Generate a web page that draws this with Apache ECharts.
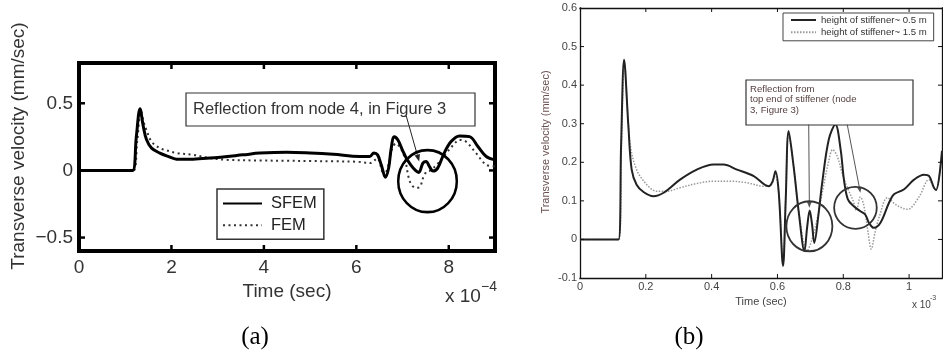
<!DOCTYPE html>
<html><head><meta charset="utf-8">
<script src="https://cdn.jsdelivr.net/npm/echarts@6/dist/echarts.min.js"></script>
<style>html,body{margin:0;padding:0;background:#fff}#c{width:943px;height:356px}</style>
</head><body><div id="c"></div>
<script>
// ---------- Panel (a) data (time in 1e-4 s, velocity in mm/sec) ----------
const aTimeSFEM = [0, 1.0, 1.16, 1.24, 1.32, 1.39, 1.46, 1.57, 1.75, 1.93, 2.11, 2.47, 2.83, 3.55, 3.91, 4.5, 5.0, 5.5, 6.07, 6.29, 6.38, 6.46, 6.54, 6.63, 6.7, 6.75, 6.82, 6.9, 7.0, 7.08, 7.18, 7.28, 7.35, 7.44, 7.51, 7.58, 7.66, 7.76, 7.9, 8.05, 8.23, 8.45, 8.63, 8.81, 9.0];
const aVelSFEM  = [0, 0, 0, 0.25, 0.46, 0.33, 0.23, 0.166, 0.129, 0.104, 0.084, 0.084, 0.092, 0.116, 0.129, 0.136, 0.13, 0.12, 0.104, 0.104, 0.13, 0.116, 0.04, -0.05, 0.02, 0.153, 0.25, 0.227, 0.15, 0.092, 0.04, 0.0, -0.015, 0.054, 0.067, 0.03, -0.005, 0.017, 0.129, 0.215, 0.257, 0.252, 0.178, 0.104, 0.079];
const aTimeFEM  = [0, 1.0, 1.18, 1.26, 1.34, 1.4, 1.46, 1.57, 1.75, 1.93, 2.11, 2.47, 2.83, 3.19, 3.91, 4.5, 5.0, 5.5, 6.0, 6.3, 6.45, 6.6, 6.7, 6.78, 6.86, 6.95, 7.05, 7.13, 7.2, 7.3, 7.38, 7.45, 7.52, 7.6, 7.76, 7.95, 8.1, 8.23, 8.37, 8.59, 8.81, 9.0];
const aVelFEM   = [0, 0, 0, 0.22, 0.44, 0.36, 0.30, 0.215, 0.166, 0.146, 0.129, 0.116, 0.092, 0.079, 0.074, 0.072, 0.07, 0.068, 0.065, 0.055, 0.09, -0.04, 0.05, 0.17, 0.2, 0.17, 0.09, -0.05, -0.11, -0.13, -0.12, -0.05, -0.01, 0.0, 0.05, 0.13, 0.19, 0.227, 0.215, 0.129, 0.042, 0.03];
const aXTicks = [0, 2, 4, 6, 8];
const aYTicks = [-0.5, 0, 0.5];

// ---------- Panel (b) data (time in 1e-3 s, velocity in mm/sec) ----------
const bTime05 = [0, 0.1, 0.117, 0.125, 0.134, 0.147, 0.157, 0.172, 0.193, 0.223, 0.254, 0.304, 0.355, 0.406, 0.436, 0.477, 0.528, 0.573, 0.585, 0.594, 0.604, 0.617, 0.625, 0.634, 0.649, 0.665, 0.682, 0.69, 0.698, 0.705, 0.712, 0.724, 0.736, 0.756, 0.776, 0.792, 0.802, 0.814, 0.832, 0.852, 0.867, 0.878, 0.893, 0.913, 0.939, 0.954, 0.985, 1.015, 1.045, 1.061, 1.075, 1.082, 1.1];
const bVel05  = [0, 0, 0, 0.25, 0.466, 0.294, 0.181, 0.142, 0.123, 0.112, 0.121, 0.155, 0.181, 0.194, 0.194, 0.181, 0.164, 0.138, 0.15, 0.177, 0.121, -0.069, 0.1, 0.281, 0.19, 0.069, -0.03, 0.03, 0.075, 0.04, -0.009, 0.06, 0.147, 0.259, 0.298, 0.233, 0.155, 0.104, 0.086, 0.073, 0.064, 0.043, 0.03, 0.043, 0.095, 0.117, 0.13, 0.155, 0.168, 0.164, 0.135, 0.128, 0.23];
const bTime15 = [0, 0.1, 0.118, 0.126, 0.135, 0.152, 0.172, 0.203, 0.233, 0.264, 0.304, 0.355, 0.406, 0.457, 0.507, 0.558, 0.58, 0.592, 0.604, 0.617, 0.625, 0.634, 0.649, 0.665, 0.69, 0.705, 0.72, 0.738, 0.755, 0.768, 0.782, 0.797, 0.812, 0.83, 0.84, 0.852, 0.862, 0.875, 0.885, 0.897, 0.91, 0.934, 0.96, 0.995, 1.03, 1.06, 1.075, 1.082, 1.1];
const bVel15  = [0, 0, 0, 0.24, 0.455, 0.25, 0.181, 0.142, 0.125, 0.125, 0.134, 0.145, 0.151, 0.151, 0.147, 0.138, 0.14, 0.17, 0.12, -0.06, 0.1, 0.27, 0.19, 0.07, -0.03, 0.0, 0.05, 0.13, 0.2, 0.233, 0.215, 0.17, 0.135, 0.1, 0.075, 0.11, 0.09, 0.02, -0.025, 0.02, 0.06, 0.108, 0.09, 0.078, 0.11, 0.155, 0.135, 0.128, 0.23];
const bXTicks = [0, 0.2, 0.4, 0.6, 0.8, 1];
const bYTicks = [-0.1, 0, 0.1, 0.2, 0.3, 0.4, 0.5, 0.6];

const seriesNames = ['SFEM', 'FEM', 'height of stiffener~ 0.5 m', 'height of stiffener~ 1.5 m'];

function pairs(t, v) { return t.map((x, i) => [x, v[i]]); }

const FONT = '"Liberation Sans", Arial, sans-serif';
const chart = echarts.init(document.getElementById('c'));

function tickAxis(common, extra) { return Object.assign({}, common, extra); }

const aLine = { show: true, onZero: false, lineStyle: { color: '#000', width: 4, cap: 'square' } };
const bLine = { show: true, onZero: false, lineStyle: { color: '#111', width: 1.3, cap: 'square' } };
const aXCommon = { gridIndex: 0, type: 'value', min: 0, max: 9, interval: 2, axisLine: aLine, splitLine: { show: false }, axisTick: { show: false } };
const aYCommon = { gridIndex: 0, type: 'value', min: -0.6, max: 0.8, axisLine: aLine, splitLine: { show: false }, axisTick: { show: false } };
const bXCommon = { gridIndex: 1, type: 'value', min: 0, max: 1.1, interval: 0.2, axisLine: bLine, splitLine: { show: false }, axisTick: { show: false } };
const bYCommon = { gridIndex: 1, type: 'value', min: -0.1, max: 0.6, interval: 0.1, axisLine: bLine, splitLine: { show: false }, axisTick: { show: false } };

const option = {
  animation: false,
  backgroundColor: '#fff',
  grid: [
    { left: 79, top: 63, width: 416, height: 188, show: false, outerBoundsMode: 'none' },
    { left: 580, top: 8, width: 362, height: 270, show: false, outerBoundsMode: 'none' }
  ],
  xAxis: [
    tickAxis(aXCommon, { position: 'bottom', axisLabel: { customValues: aXTicks, margin: 7, fontSize: 19, color: '#333', fontFamily: FONT },
      name: 'Time (sec)', nameLocation: 'middle', nameGap: 28, nameTextStyle: { fontSize: 19, color: '#333', fontFamily: FONT } }),
    tickAxis(aXCommon, { position: 'top', axisLabel: { show: false } }),
    tickAxis(bXCommon, { position: 'bottom', axisLabel: { customValues: bXTicks, margin: 3, fontSize: 11, color: '#444', fontFamily: FONT },
      name: 'Time (sec)', nameLocation: 'middle', nameGap: 15, nameTextStyle: { fontSize: 11, color: '#444', fontFamily: FONT } }),
    tickAxis(bXCommon, { position: 'top', axisLabel: { show: false } })
  ],
  yAxis: [
    tickAxis(aYCommon, { position: 'left', axisLabel: { customValues: aYTicks, margin: 6, fontSize: 19, color: '#333', fontFamily: FONT,
      formatter: v => (v === 0 ? '0' : String(v).replace('-', '\u2212')) } }),
    tickAxis(aYCommon, { position: 'right', axisLabel: { show: false } }),
    tickAxis(bYCommon, { position: 'left', axisLabel: { customValues: bYTicks, margin: 3, fontSize: 11, color: '#444', fontFamily: FONT,
      formatter: v => String(Math.round(v * 10) / 10) } }),
    tickAxis(bYCommon, { position: 'right', axisLabel: { show: false } })
  ],
  legend: [
    { data: [seriesNames[0], seriesNames[1]], orient: 'vertical', left: 217, top: 189, padding: [6, 7, 5.5, 5], itemWidth: 39, itemHeight: 16, itemGap: 4.7,
      borderColor: '#333', borderWidth: 1.5, backgroundColor: '#fff', selectedMode: false, itemStyle: { opacity: 0 },
      textStyle: { fontSize: 16.5, fontFamily: FONT, color: '#222', lineHeight: 16, padding: [0, 0, 0, 4] } },
    { data: [seriesNames[2], seriesNames[3]], orient: 'vertical', left: 783, top: 13, padding: [2, 7, 3.5, 7], itemWidth: 25, itemHeight: 10, itemGap: 2.3,
      borderColor: '#444', borderWidth: 1, backgroundColor: '#fff', selectedMode: false, itemStyle: { opacity: 0 },
      textStyle: { fontSize: 9.6, fontFamily: FONT, color: '#333', lineHeight: 10 } }
  ],
  series: [
    { name: seriesNames[0], type: 'line', xAxisIndex: 0, yAxisIndex: 0, data: pairs(aTimeSFEM, aVelSFEM), symbol: 'none', smooth: 0.35, z: 4,
      lineStyle: { color: '#000', width: 3 }, itemStyle: { color: '#000' } },
    { name: seriesNames[1], type: 'line', xAxisIndex: 0, yAxisIndex: 0, data: pairs(aTimeFEM, aVelFEM), symbol: 'none', smooth: 0.35, z: 3,
      lineStyle: { color: '#333', width: 2, type: [2, 3.5] }, itemStyle: { color: '#333' } },
    { name: seriesNames[2], type: 'line', xAxisIndex: 2, yAxisIndex: 2, data: pairs(bTime05, bVel05), symbol: 'none', smooth: 0.35, z: 4,
      lineStyle: { color: '#222', width: 2 }, itemStyle: { color: '#222' } },
    { name: seriesNames[3], type: 'line', xAxisIndex: 2, yAxisIndex: 2, data: pairs(bTime15, bVel15), symbol: 'none', smooth: 0.35, z: 3,
      lineStyle: { color: '#999', width: 1.5, type: [1.5, 1.5] }, itemStyle: { color: '#999' } }
  ]
};
chart.setOption(option);

// ---------- annotations ----------
function pa(x, y) { return chart.convertToPixel({ xAxisIndex: 0, yAxisIndex: 0 }, [x, y]); }
function pb(x, y) { return chart.convertToPixel({ xAxisIndex: 2, yAxisIndex: 2 }, [x, y]); }
function arrow(p0, p1, color, w, head) {
  const dx = p1[0] - p0[0], dy = p1[1] - p0[1], L = Math.hypot(dx, dy);
  const ux = dx / L, uy = dy / L;
  const bx = p1[0] - ux * head, by = p1[1] - uy * head;
  const nx = -uy * head * 0.4, ny = ux * head * 0.4;
  return [
    { type: 'line', z: 100, shape: { x1: p0[0], y1: p0[1], x2: bx, y2: by }, style: { stroke: color, lineWidth: w } },
    { type: 'polygon', z: 100, shape: { points: [[p1[0], p1[1]], [bx + nx, by + ny], [bx - nx, by - ny]] }, style: { fill: color } }
  ];
}
function ring(c, rx, ry, color, w) {
  return { type: 'circle', z: 100, x: c[0], y: c[1], scaleY: ry / rx, shape: { cx: 0, cy: 0, r: rx }, style: { fill: 'none', stroke: color, lineWidth: w } };
}
// inside tick marks on all four sides, positioned through the axes' scales
function ticks(conv, xMin, xMax, yMin, yMax, xt, yt, len, color, w) {
  const out = [];
  const y0 = conv(xMin, yMin)[1], y1 = conv(xMin, yMax)[1];
  const x0 = conv(xMin, yMin)[0], x1 = conv(xMax, yMin)[0];
  xt.forEach(v => {
    const x = conv(v, yMin)[0];
    if (Math.abs(x - x0) < 1 || Math.abs(x - x1) < 1) return;
    out.push({ type: 'line', z: 50, shape: { x1: x, y1: y0, x2: x, y2: y0 - len }, style: { stroke: color, lineWidth: w } });
    out.push({ type: 'line', z: 50, shape: { x1: x, y1: y1, x2: x, y2: y1 + len }, style: { stroke: color, lineWidth: w } });
  });
  yt.forEach(v => {
    const y = conv(xMin, v)[1];
    if (Math.abs(y - y0) < 1 || Math.abs(y - y1) < 1) return;
    out.push({ type: 'line', z: 50, shape: { x1: x0, y1: y, x2: x0 + len, y2: y }, style: { stroke: color, lineWidth: w } });
    out.push({ type: 'line', z: 50, shape: { x1: x1, y1: y, x2: x1 - len, y2: y }, style: { stroke: color, lineWidth: w } });
  });
  return out;
}
const g = [];
g.push(...ticks(pa, 0, 9, -0.6, 0.8, aXTicks, aYTicks, 6, '#000', 2.5));
g.push(...ticks(pb, 0, 1.1, -0.1, 0.6, bXTicks, bYTicks, 4, '#111', 1));
// panel (a)
g.push({ type: 'rect', z: 90, shape: { x: 186, y: 93, width: 289, height: 33 }, style: { fill: '#fff', stroke: '#333', lineWidth: 1.2 } });
g.push({ type: 'text', z: 101, style: { text: 'Reflection from node 4, in Figure 3', x: 193, y: 109.5, verticalAlign: 'middle', font: '16.5px ' + FONT, fill: '#333' } });
g.push(...arrow(pa(7.08, 0.405), pa(7.36, 0.067), '#222', 1, 7));
g.push(ring(pa(7.54, -0.08), 29.3, 31, '#000', 2.5));
g.push({ type: 'text', z: 101, rotation: Math.PI / 2, x: 19, y: 146, style: { text: 'Transverse velocity (mm/sec)', align: 'center', verticalAlign: 'middle', font: '19px ' + FONT, fill: '#333' } });
g.push({ type: 'text', z: 101, style: { text: 'x 10', x: 445, y: 297, verticalAlign: 'middle', font: '19px ' + FONT, fill: '#333' } });
g.push({ type: 'text', z: 101, style: { text: '\u22124', x: 481, y: 287, verticalAlign: 'middle', font: '14px ' + FONT, fill: '#333' } });
// panel (b)
g.push({ type: 'rect', z: 90, shape: { x: 746, y: 80, width: 167, height: 45 }, style: { fill: '#fff', stroke: '#333', lineWidth: 1.2 } });
g.push({ type: 'text', z: 101, style: { text: 'Reflection from\ntop end of stiffener (node\n3, Figure 3)', x: 750, y: 84, lineHeight: 10.5, font: '9.6px ' + FONT, fill: '#553f3f' } });
g.push(...arrow(pb(0.695, 0.298), pb(0.697, 0.082), '#555', 1, 6));
g.push(...arrow(pb(0.812, 0.298), pb(0.852, 0.121), '#555', 1, 6));
g.push(ring(pb(0.697, 0.034), 23, 25, '#333', 1.8));
g.push(ring(pb(0.837, 0.082), 21.3, 21, '#333', 1.8));
g.push({ type: 'text', z: 101, rotation: Math.PI / 2, x: 546, y: 142, style: { text: 'Transverse velocity (mm/sec)', align: 'center', verticalAlign: 'middle', font: '11px ' + FONT, fill: '#6b5050' } });
g.push({ type: 'text', z: 101, style: { text: 'x 10', x: 912, y: 305, verticalAlign: 'middle', font: '10px ' + FONT, fill: '#444' } });
g.push({ type: 'text', z: 101, style: { text: '-3', x: 930, y: 298, verticalAlign: 'middle', font: '7px ' + FONT, fill: '#444' } });
// sub-figure captions
g.push({ type: 'text', z: 101, style: { text: '(a)', x: 255, y: 337, align: 'center', verticalAlign: 'middle', font: '25px "Liberation Serif", "Times New Roman", serif', fill: '#000' } });
g.push({ type: 'text', z: 101, style: { text: '(b)', x: 689, y: 337, align: 'center', verticalAlign: 'middle', font: '25px "Liberation Serif", "Times New Roman", serif', fill: '#000' } });
chart.setOption({ graphic: { elements: g } });
</script></body></html>
